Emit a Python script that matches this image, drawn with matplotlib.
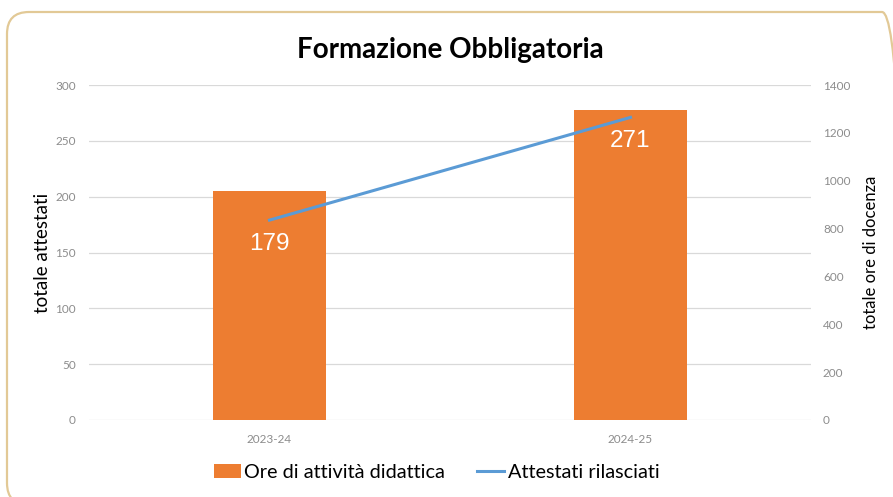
import matplotlib
matplotlib.use("Agg")
import matplotlib.pyplot as plt
from matplotlib.patches import FancyBboxPatch, Patch
from matplotlib.lines import Line2D
from matplotlib.transforms import IdentityTransform

# ── Data ──────────────────────────────────────────────────────────────────────
years = ["2023-24", "2024-25"]
ore_didattica = [957, 1296]        # bars, right axis (totale ore di docenza)
attestati = [179, 271]             # line, left axis (totale attestati)
left_ticks = [0, 50, 100, 150, 200, 250, 300]
right_ticks = [0, 200, 400, 600, 800, 1000, 1200, 1400]

ORANGE = "#ED7D31"
BLUE = "#5B9BD5"
TICK_GRAY = "#8C8C8C"
FONT = "Lato"

W, H = 893, 497
fig = plt.figure(figsize=(W / 100, H / 100), dpi=100)

# rounded border, in pixels (origin bottom-left); right edge runs off the picture
border = FancyBboxPatch((7, -8), 897, 493,
                        boxstyle="round,pad=0,rounding_size=22",
                        transform=IdentityTransform(), facecolor="none",
                        edgecolor="#E2C996", linewidth=1.6, zorder=-1)
fig.patches.append(border)

# axes: bars on ax (ticks on right), line on ax2 (ticks on left)
ax = fig.add_axes([89 / W, 1 - 420 / H, 722 / W, 335 / H])
ax2 = ax.twinx()
ax.patch.set_alpha(0)
ax2.patch.set_alpha(0)

x = list(range(len(years)))
ax.bar(x, ore_didattica, width=0.313, color=ORANGE, zorder=2)
ax.set_ylim(0, 1400)
ax.set_yticks(right_ticks)
ax.yaxis.tick_right()
ax.yaxis.set_label_position("right")
ax.set_ylabel("totale ore di docenza", fontsize=12, family=FONT, labelpad=9)
ax.set_xlim(-0.5, 1.5)
ax.set_xticks(x)
ax.set_xticklabels(years)

ax2.plot(x, attestati, color=BLUE, linewidth=2.2, zorder=3)
ax2.set_ylim(0, 300)
ax2.set_yticks(left_ticks)
ax2.yaxis.tick_left()
ax2.yaxis.set_label_position("left")
ax2.set_ylabel("totale attestati", fontsize=13.5, family=FONT, labelpad=3)
for xi, v in zip(x, attestati):
    ax2.annotate(str(v), (xi, v), xytext=(0, -24), textcoords="offset pixels",
                 ha="center", va="center", color="white", fontsize=17.5,
                 family="Liberation Sans")

# gridlines follow left axis, drawn on the bar axes so they sit under the bars
for t in left_ticks:
    ax.axhline(t * 1400 / 300, color="#D9D9D9", linewidth=0.9, zorder=1)

for a in (ax, ax2):
    for s in a.spines.values():
        s.set_visible(False)
    a.tick_params(length=0, labelsize=8.5, labelcolor=TICK_GRAY)
    for lab in a.get_xticklabels() + a.get_yticklabels():
        lab.set_family(FONT)
ax.tick_params(axis="x", pad=10)
ax.tick_params(axis="y", pad=8.6)
ax2.tick_params(axis="y", pad=9.5)

fig.text(0.5045, 1 - 50 / H, "Formazione Obbligatoria", ha="center", va="center",
         fontsize=20, fontweight="bold", family=FONT)

handles = [Patch(facecolor=ORANGE, edgecolor="none"),
           Line2D([0], [0], color=BLUE, linewidth=2.2)]
fig.legend(handles, ["Ore di attività didattica", "Attestati rilasciati"],
           loc="center", bbox_to_anchor=(0.489, 1 - 472 / H), ncol=2,
           frameon=False, prop={"family": FONT, "size": 14.3},
           handlelength=1.35, handletextpad=0.2, columnspacing=1.6)

fig.savefig("out.png", dpi=100)
